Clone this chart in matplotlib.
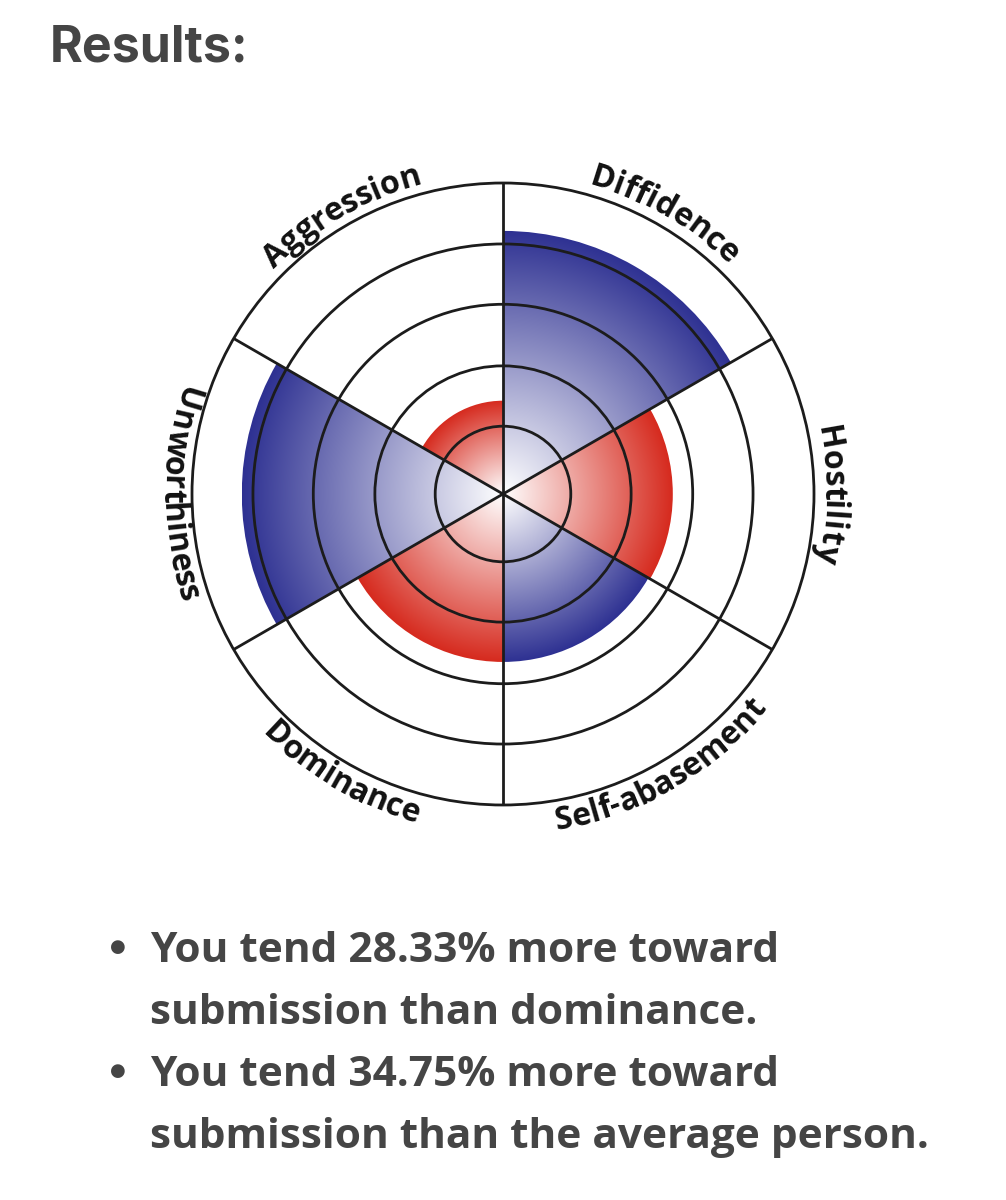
import numpy as np
import matplotlib
matplotlib.use("Agg")
import matplotlib.pyplot as plt
from matplotlib.patches import Wedge, Circle
from matplotlib.font_manager import FontProperties

# sectors, counter-clockwise starting at the right (3 o'clock)
labels = ["Hostility", "Diffidence", "Aggression", "Unworthiness", "Dominance", "Self-abasement"]
centers = [0, 60, 120, 180, 240, 300]
scores = [2.73, 4.23, 1.50, 4.20, 2.70, 2.70]
sides = ["dominance", "submission", "dominance", "submission", "dominance", "submission"]
rings = [1.09, 2.06, 3.05, 4.02, 5.0]

title = "Results:"
notes = [
    ["You tend 28.33% more toward", "submission than dominance."],
    ["You tend 34.75% more toward", "submission than the average person."],
]

side_colors = {"dominance": "#d62a1e", "submission": "#2e3192"}
W, H, DPI = 1006, 1200, 100
CX, CY = 503, 494          # chart centre in pixels (from top)
PPU = 311 / rings[-1]      # pixels per score unit
HALF = 440
INK = "#1c1c1c"
GREY = "#454545"

fig = plt.figure(figsize=(W / DPI, H / DPI), dpi=DPI)
ax = fig.add_axes([(CX - HALF) / W, (H - CY - HALF) / H, 2 * HALF / W, 2 * HALF / H])
ax.set_xlim(-HALF / PPU, HALF / PPU)
ax.set_ylim(-HALF / PPU, HALF / PPU)
ax.set_aspect("equal")
ax.axis("off")


def hex_rgb(c):
    return np.array(matplotlib.colors.to_rgb(c))


# radial gradient wedges: white at the centre, full colour at the score
for c, v, side in zip(centers, scores, sides):
    n = 500
    g = np.linspace(-v, v, n)
    xx, yy = np.meshgrid(g, g)
    t = np.clip(np.hypot(xx, yy) / v, 0, 1)
    rgb = hex_rgb(side_colors[side])
    img = np.ones((n, n, 3)) - t[..., None] * (1 - rgb)[None, None, :]
    im = ax.imshow(img, extent=(-v, v, -v, v), origin="lower",
                   interpolation="bilinear", zorder=1)
    clip = Wedge((0, 0), v, c - 30, c + 30, transform=ax.transData)
    im.set_clip_path(clip)

# rings and spokes
for r in rings:
    ax.add_patch(Circle((0, 0), r, fill=False, lw=2.0, ec=INK, zorder=3))
for c in centers:
    a = np.deg2rad(c + 30)
    ax.plot([0, rings[-1] * np.cos(a)], [0, rings[-1] * np.sin(a)],
            color=INK, lw=2.0, zorder=3, solid_capstyle="butt")

# curved labels around the outside
lab_font = FontProperties(family=["Open Sans", "DejaVu Sans"], weight="bold", size=23)
renderer = fig.canvas.get_renderer()


def text_w(s):
    if not s:
        return 0.0
    return renderer.get_text_width_height_descent(s, lab_font, ismath=False)[0]


SPACING = 0.0  # extra pixels between letters
for lab, c in zip(labels, centers):
    clockwise = (c + 30) % 360 < 180
    rb = (rings[-1] * PPU + (10 if clockwise else 29)) / PPU
    mids = []
    for i in range(len(lab)):
        mids.append((text_w(lab[:i]) + text_w(lab[:i + 1])) / 2 + i * SPACING)
    total = text_w(lab) + (len(lab) - 1) * SPACING
    for ch, m in zip(lab, mids):
        d = np.rad2deg((total / 2 - m) / (rb * PPU))
        ang = c + d if clockwise else c - d
        rot = ang - 90 if clockwise else ang + 90
        a = np.deg2rad(ang)
        ax.text(rb * np.cos(a), rb * np.sin(a), ch, fontproperties=lab_font,
                rotation=rot, rotation_mode="anchor", ha="center", va="baseline",
                color="#111111", zorder=4)

# heading and bullet notes
fig.text(50 / W, 1 - 62 / H, title, family=["Inter", "DejaVu Sans"], weight="bold",
         fontsize=36, color=GREY, va="baseline")

note_font = dict(family=["Open Sans", "DejaVu Sans"], weight="bold", fontsize=30.5, color=GREY)
base = 962
for lines in notes:
    fig.text(118 / W, 1 - (base - 15) / H, "\u25CF", ha="center", va="center",
             family=["DejaVu Sans"], fontsize=13, color=GREY)
    for line in lines:
        fig.text(150 / W, 1 - base / H, line, va="baseline", **note_font)
        base += 62

fig.savefig("out.png", dpi=DPI, facecolor="white")
